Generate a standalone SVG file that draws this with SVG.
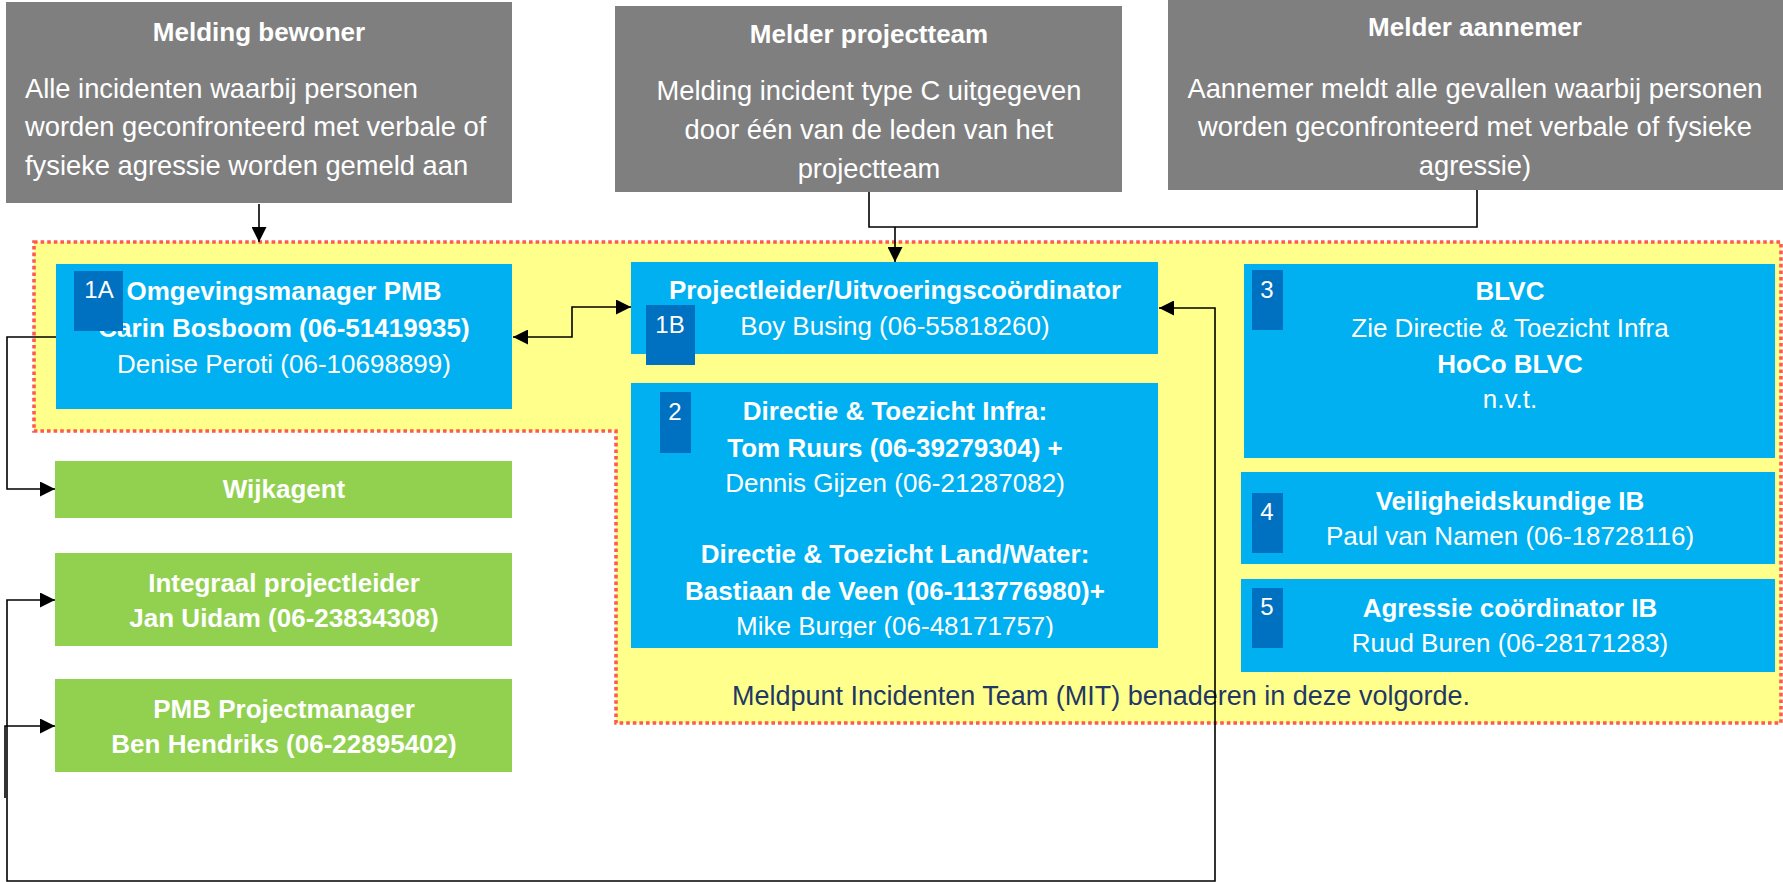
<svg xmlns="http://www.w3.org/2000/svg" width="1783" height="882" viewBox="0 0 1783 882">
<style>
text{font-family:"Liberation Sans",Arial,sans-serif;fill:#fff;font-size:26px}
.c{text-anchor:middle}
.b{font-weight:bold}
.g{font-size:27.3px}
.bd{font-size:24px}
.gray{fill:#7F7F7F}
.blue{fill:#00B0F0}
.green{fill:#92D050}
.badge{fill:#0070C0}
.ln{fill:none;stroke:#000;stroke-width:1.6}
</style>
<defs>
<marker id="arr" viewBox="0 0 10 10" refX="10" refY="5" markerWidth="15" markerHeight="15" markerUnits="userSpaceOnUse" orient="auto-start-reverse"><path d="M0,0 L10,5 L0,10 z" fill="#000"/></marker>
<clipPath id="clip2"><rect x="631" y="383" width="527" height="255"/></clipPath>
</defs>
<rect width="1783" height="882" fill="#fff"/>
<g id="mit-zone">
<path d="M34,242 H1781 V723 H616 V431 H34 Z" fill="#FFFF8C" stroke="#FF5A4E" stroke-width="3.6" stroke-dasharray="3.6 3"/>
<text class="c" x="1101" y="705" style="fill:#1F3864;font-size:27px">Meldpunt Incidenten Team (MIT) benaderen in deze volgorde.</text>
</g>
<g id="melding-bewoner">
<rect class="gray" x="6" y="2" width="506" height="201"/>
<text class="c b" x="259" y="41">Melding bewoner</text>
<text class="g" x="25" y="98">Alle incidenten waarbij personen</text>
<text class="g" x="25" y="136">worden geconfronteerd met verbale of</text>
<text class="g" x="25" y="175">fysieke agressie worden gemeld aan</text>
</g>
<g id="melder-projectteam">
<rect class="gray" x="615" y="6" width="507" height="186"/>
<text class="c b" x="869" y="43">Melder projectteam</text>
<text class="c g" x="869" y="100">Melding incident type C uitgegeven</text>
<text class="c g" x="869" y="139">door één van de leden van het</text>
<text class="c g" x="869" y="178">projectteam</text>
</g>
<g id="melder-aannemer">
<rect class="gray" x="1168" y="0" width="615" height="190"/>
<text class="c b" x="1475" y="36">Melder aannemer</text>
<text class="c g" x="1475" y="98">Aannemer meldt alle gevallen waarbij personen</text>
<text class="c g" x="1475" y="136">worden geconfronteerd met verbale of fysieke</text>
<text class="c g" x="1475" y="175">agressie)</text>
</g>
<g id="n1a">
<rect class="blue" x="56" y="264" width="456" height="145"/>
<text class="c b" x="284" y="300">Omgevingsmanager PMB</text>
<text class="c b" x="284" y="337">Carin Bosboom (06-51419935)</text>
<text class="c" x="284" y="373">Denise Peroti (06-10698899)</text>
<rect class="badge" x="74" y="271" width="49" height="60"/>
<text class="c bd" x="99" y="298">1A</text>
</g>
<g id="n1b">
<rect class="blue" x="631" y="262" width="527" height="92"/>
<text class="c b" x="895" y="299">Projectleider/Uitvoeringscoördinator</text>
<text class="c" x="895" y="335">Boy Busing (06-55818260)</text>
<rect class="badge" x="646" y="305" width="49" height="60"/>
<text class="c bd" x="670" y="333">1B</text>
</g>
<g id="n2">
<rect class="blue" x="631" y="383" width="527" height="265"/>
<g clip-path="url(#clip2)">
<text class="c b" x="895" y="420">Directie &amp; Toezicht Infra:</text>
<text class="c b" x="895" y="457">Tom Ruurs (06-39279304) +</text>
<text class="c" x="895" y="492">Dennis Gijzen (06-21287082)</text>
<text class="c b" x="895" y="563">Directie &amp; Toezicht Land/Water:</text>
<text class="c b" x="895" y="600">Bastiaan de Veen (06-113776980)+</text>
<text class="c" x="895" y="635">Mike Burger (06-48171757)</text>
</g>
<rect class="badge" x="660" y="392" width="31" height="61"/>
<text class="c bd" x="675" y="420">2</text>
</g>
<g id="n3">
<rect class="blue" x="1244" y="264" width="531" height="194"/>
<text class="c b" x="1510" y="300">BLVC</text>
<text class="c" x="1510" y="337">Zie Directie &amp; Toezicht Infra</text>
<text class="c b" x="1510" y="373">HoCo BLVC</text>
<text class="c" x="1510" y="408">n.v.t.</text>
<rect class="badge" x="1252" y="270" width="31" height="60"/>
<text class="c bd" x="1267" y="298">3</text>
</g>
<g id="n4">
<rect class="blue" x="1241" y="472" width="534" height="92"/>
<text class="c b" x="1510" y="510">Veiligheidskundige IB</text>
<text class="c" x="1510" y="545">Paul van Namen (06-18728116)</text>
<rect class="badge" x="1252" y="493" width="31" height="60"/>
<text class="c bd" x="1267" y="520">4</text>
</g>
<g id="n5">
<rect class="blue" x="1241" y="579" width="534" height="93"/>
<text class="c b" x="1510" y="617">Agressie coördinator IB</text>
<text class="c" x="1510" y="652">Ruud Buren (06-28171283)</text>
<rect class="badge" x="1252" y="588" width="31" height="60"/>
<text class="c bd" x="1267" y="615">5</text>
</g>
<g id="wijkagent">
<rect class="green" x="55" y="461" width="457" height="57"/>
<text class="c b" x="284" y="498">Wijkagent</text>
</g>
<g id="integraal">
<rect class="green" x="55" y="553" width="457" height="93"/>
<text class="c b" x="284" y="592">Integraal projectleider</text>
<text class="c b" x="284" y="627">Jan Uidam (06-23834308)</text>
</g>
<g id="pmb">
<rect class="green" x="55" y="679" width="457" height="93"/>
<text class="c b" x="284" y="718">PMB Projectmanager</text>
<text class="c b" x="284" y="753">Ben Hendriks (06-22895402)</text>
</g>
<g id="connectors">
<path class="ln" d="M259,204 V242" stroke-width="2.8" marker-end="url(#arr)"/>
<path class="ln" d="M869,192 V227 H1477 V190"/>
<path class="ln" d="M895,227 V262" marker-end="url(#arr)"/>
<path class="ln" d="M513,337 H572 V307 H631" marker-start="url(#arr)" marker-end="url(#arr)"/>
<path class="ln" d="M56,337 H7 V489 H55" marker-end="url(#arr)"/>
<path class="ln" d="M1159,308 H1215 V881 H7 V600 H55" marker-start="url(#arr)" marker-end="url(#arr)"/>
<path class="ln" d="M5,798 V726 H55" marker-end="url(#arr)"/>
</g>
</svg>
